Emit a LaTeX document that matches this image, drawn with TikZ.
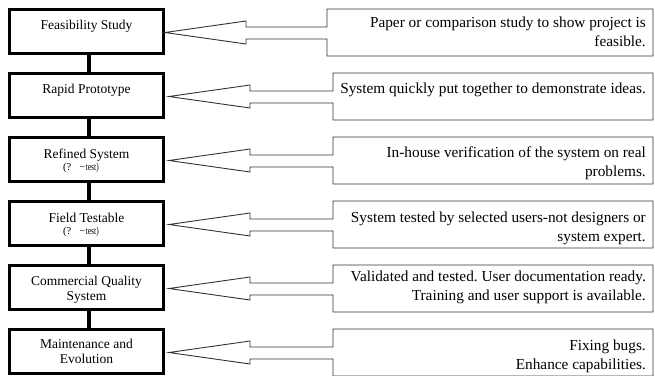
\documentclass[tikz,border=0pt]{standalone}
\usepackage{fontspec}
\setmainfont{Liberation Serif}
\usetikzlibrary{calc}
\frenchspacing
\tikzset{
  stage/.style={draw, line width=3.2pt, minimum width=153.8pt, minimum height=43.8pt, inner sep=0pt},
  stagetxt/.style={font=\fontsize{13.5}{15}\selectfont, align=center, anchor=base, inner sep=0pt},
  testtxt/.style={font=\fontsize{10.5}{10.5}\selectfont, anchor=base, inner sep=0pt},
  note/.style={font=\fontsize{15.3}{19}\selectfont, align=right, anchor=base east, inner sep=0pt},
  callout/.style={draw=black!80, line width=0.9pt, fill=white, line join=miter},
  link/.style={line width=4pt}
}
% #1 stage node, #2 top y, #3 gap of tip, #4 head base x, #5 callout left x
\newcommand\mycallout[5]{%
  \draw[callout] (#5,#2+19) -- (#4,#2+19) -- (#4,#2+13) -- ([xshift=#3,yshift=-1pt]#1.east)
    -- (#4,#2+36) -- (#4,#2+31) -- (#5,#2+31) -- (#5,#2+48) -- (653,#2+48)
    -- (653,#2+1) -- (#5,#2+1) -- cycle;}
\newcommand\testlabel{(?\hspace{8pt}−\hspace{0.5pt}\scalebox{0.72}[1]{test)}}
\begin{document}
\begin{tikzpicture}[x=1pt,y=-1pt]
\useasboundingbox (0,0) rectangle (655,375);
\clip (0,0) rectangle (655,375);
\fill[white] (0,0) rectangle (655,375);

% stage boxes
\node[stage] (s1) at (86.5,31.5) {};
\node[stage] (s2) at (86.5,95.5) {};
\node[stage] (s3) at (86.5,159.5) {};
\node[stage] (s4) at (86.5,223.5) {};
\node[stage] (s5) at (86.5,287.5) {};
\node[stage] (s6) at (86.5,351.5) {};

% links between stages
\draw[link] ([xshift=2.8pt]s1.south) -- ([xshift=2.8pt]s2.north);
\draw[link] ([xshift=2.8pt]s2.south) -- ([xshift=2.8pt]s3.north);
\draw[link] ([xshift=2.8pt]s3.south) -- ([xshift=2.8pt]s4.north);
\draw[link] ([xshift=2.8pt]s4.south) -- ([xshift=2.8pt]s5.north);
\draw[link] ([xshift=2.8pt]s5.south) -- ([xshift=2.8pt]s6.north);

% stage texts (base anchor = last line)
\node[stagetxt] (t1) at (86.5,29.5) {Feasibility Study};
\node[stagetxt] (t2) at (86.5,93.5) {Rapid Prototype};
\node[stagetxt] (t3) at (86.5,158) {Refined System};
\node[testtxt] (u3) at (81,170.5) {\testlabel};
\node[stagetxt] (t4) at (86.5,222) {Field Testable};
\node[testtxt] (u4) at (81,234.5) {\testlabel};
\node[stagetxt] (t5) at (86.5,300.5) {Commercial Quality\\System};
\node[stagetxt] (t6) at (86.5,363.5) {Maintenance and\\Evolution};

% callouts
\mycallout{s1}{8}{0pt}{246}{327}
\mycallout{s2}{72}{4pt}{250}{333}
\mycallout{s3}{136}{4pt}{250}{333}
\mycallout{s4}{200}{4pt}{250}{333}
\mycallout{s5}{264}{4pt}{250}{333}
\mycallout{s6}{328}{4pt}{250}{333}

% notes (base anchor = last line)
\node[note] (n1) at (646,46) {Paper or comparison study to show project is\\feasible.};
\node[note] (n2) at (646,93) {System quickly put together to demonstrate ideas.};
\node[note] (n3) at (646,176.5) {In-house verification of the system on real\\problems.};
\node[note] (n4) at (646,241) {System tested by selected users-not designers or\\system expert.};
\node[note] (n5) at (646,300.5) {Validated and tested. User documentation ready.\\Training and user support is available.};
\node[note] (n6) at (646,369) {Fixing bugs.\\Enhance capabilities.};
\end{tikzpicture}
\end{document}
